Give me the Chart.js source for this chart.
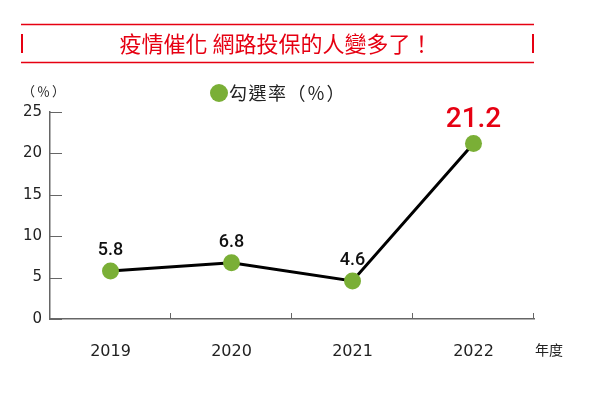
<!DOCTYPE html>
<html>
<head>
<meta charset="utf-8">
<script src="https://cdn.jsdelivr.net/npm/chart.js@4/dist/chart.umd.min.js"></script>
<style>
  html, body { margin: 0; padding: 0; background: #fff; }
  #wrap { width: 591px; height: 397px; }
</style>
</head>
<body>
<div id="wrap"><canvas id="myChart" width="591" height="397"></canvas></div>
<script>
const years = ['2019', '2020', '2021', '2022'];
const rates = [5.8, 6.8, 4.6, 21.2];
const seriesName = '勾選率（％）';
const titleText = '疫情催化 網路投保的人變多了！';
const yUnit = '（％）';
const xUnit = '年度';

const RED = '#e60012';
const GREEN = '#7aaf36';
const CJK = '"Noto Sans CJK TC", "Noto Sans", sans-serif';

// inward tick marks on both axes
const innerTicks = {
  id: 'innerTicks',
  afterDatasetsDraw(chart) {
    const ctx = chart.ctx;
    const xs = chart.scales.x;
    const ys = chart.scales.y;
    ctx.save();
    ctx.strokeStyle = '#666';
    ctx.lineWidth = 1;
    ctx.beginPath();
    ys.ticks.forEach(t => {
      const y = Math.round(ys.getPixelForValue(t.value)) + 0.5;
      ctx.moveTo(ys.right, y);
      ctx.lineTo(ys.right + 12, y);
    });
    const px = xs.ticks.map((t, i) => xs.getPixelForTick(i));
    const bounds = [];
    for (let i = 1; i < px.length; i++) bounds.push((px[i - 1] + px[i]) / 2);
    bounds.push(xs.right);
    bounds.forEach(b => {
      const x = Math.round(b) - 0.5;
      ctx.moveTo(x, xs.top);
      ctx.lineTo(x, xs.top - 6);
    });
    ctx.stroke();
    ctx.restore();
  }
};

// title box, legend, unit labels and value labels
const decorations = {
  id: 'decorations',
  afterDraw(chart) {
    const ctx = chart.ctx;
    ctx.save();

    // title box
    ctx.strokeStyle = RED;
    ctx.lineWidth = 1.5;
    ctx.beginPath();
    ctx.moveTo(21, 24.5); ctx.lineTo(534, 24.5);
    ctx.moveTo(21, 62.5); ctx.lineTo(534, 62.5);
    ctx.stroke();
    ctx.lineWidth = 2;
    ctx.beginPath();
    ctx.moveTo(22, 34); ctx.lineTo(22, 53);
    ctx.moveTo(533, 34); ctx.lineTo(533, 53);
    ctx.stroke();
    ctx.fillStyle = RED;
    ctx.font = '22px ' + CJK;
    ctx.textAlign = 'center';
    ctx.textBaseline = 'middle';
    ctx.fillText(titleText, 276, 44);

    // units
    ctx.fillStyle = '#222';
    ctx.textAlign = 'left';
    ctx.font = '13px ' + CJK;
    ctx.letterSpacing = '2px';
    ctx.fillText(yUnit, 22, 91);
    ctx.letterSpacing = '0px';
    ctx.font = '14px ' + CJK;
    ctx.fillText(xUnit, 535, 350);

    // legend
    const ds = chart.data.datasets[0];
    ctx.fillStyle = ds.pointBackgroundColor;
    ctx.beginPath();
    ctx.arc(219, 93, 9, 0, Math.PI * 2);
    ctx.fill();
    ctx.fillStyle = '#222';
    ctx.font = '18px ' + CJK;
    ctx.letterSpacing = '1.5px';
    ctx.fillText(ds.label, 229, 93);
    ctx.letterSpacing = '0px';

    // value labels
    const meta = chart.getDatasetMeta(0);
    ctx.textAlign = 'center';
    ctx.textBaseline = 'alphabetic';
    meta.data.forEach((pt, i) => {
      const last = i === ds.data.length - 1;
      ctx.fillStyle = last ? RED : '#111';
      ctx.font = last ? '500 28px Roboto' : '500 18px Roboto';
      ctx.fillText(ds.data[i].toFixed(1), pt.x, pt.y - 16);
    });

    ctx.restore();
  }
};

const data = {
  labels: years,
  datasets: [{
    label: seriesName,
    data: rates,
    borderColor: '#000',
    borderWidth: 3,
    pointBackgroundColor: GREEN,
    pointBorderColor: GREEN,
    pointBorderWidth: 0,
    pointRadius: 8.5,
    tension: 0
  }]
};

const config = {
  type: 'line',
  data: data,
  options: {
    responsive: false,
    animation: false,
    layout: {
      padding: { top: 112, right: 57, left: 0, bottom: 0 }
    },
    plugins: {
      legend: { display: false },
      tooltip: { enabled: false },
      title: { display: false }
    },
    scales: {
      x: {
        type: 'category',
        offset: true,
        border: { color: '#666', width: 1.5 },
        grid: { display: false },
        ticks: {
          color: '#222',
          font: { family: 'DejaVu Sans', size: 16 },
          padding: 15
        },
        afterFit(scale) { scale.height = 78; }
      },
      y: {
        min: 0,
        max: 25,
        border: { color: '#666', width: 1.5 },
        grid: { display: false },
        ticks: {
          stepSize: 5,
          color: '#222',
          font: { family: 'DejaVu Sans', size: 15 },
          padding: 0
        },
        afterFit(scale) { scale.width = 50; }
      }
    }
  },
  plugins: [innerTicks, decorations]
};

const myChart = new Chart(document.getElementById('myChart'), config);
</script>
</body>
</html>
